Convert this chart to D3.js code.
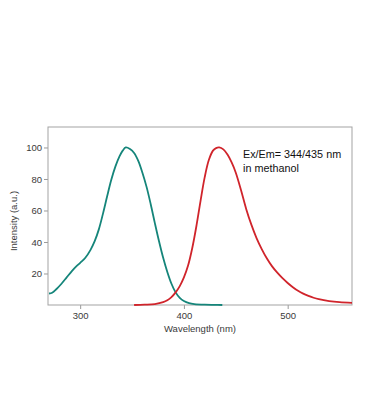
<!DOCTYPE html>
<html>
<head>
<meta charset="utf-8">
<script src="https://cdn.jsdelivr.net/npm/d3@7"></script>
<style>
  body { margin: 0; background: #fff; }
  svg { display: block; font-family: "Liberation Sans", Arial, sans-serif; }
</style>
</head>
<body>
<div class="canvas"></div>
<script>
// excitation spectrum (teal)
const exWavelength = [270, 273, 277, 282, 287, 292, 296, 300, 305, 310, 314, 318, 322, 326, 330, 334, 338, 341, 344, 348, 352, 356, 360, 364, 368, 372, 376, 380, 384, 388, 392, 396, 400, 405, 410, 420, 430, 437];
const exIntensity  = [7.3, 7.8, 10, 13.5, 17.5, 21.5, 24.3, 26.8, 30, 35, 40.5, 48, 58, 69, 79.5, 88, 94.5, 98, 100, 99, 96.5, 91.5, 84, 75, 64, 52, 40.5, 30, 21, 13.5, 8, 4.5, 2.5, 1.2, 0.6, 0.2, 0.1, 0];

// emission spectrum (red)
const emWavelength = [352, 362, 372, 380, 384, 388, 392, 396, 400, 404, 408, 412, 416, 420, 424, 428, 431, 434, 438, 442, 446, 450, 455, 460, 465, 470, 475, 480, 485, 490, 495, 500, 505, 510, 515, 520, 525, 530, 540, 550, 562];
const emIntensity  = [0, 0.2, 0.6, 1.8, 3, 5, 8, 12, 17.5, 25, 36, 50, 66, 81, 92, 98, 99.6, 100, 98.8, 95.5, 90.5, 84, 73, 61, 51, 42.5, 35.5, 29.5, 24.5, 20.5, 17, 14, 11.3, 9, 7.2, 5.8, 4.6, 3.7, 2.5, 1.8, 1.4];

const xTicks = [300, 400, 500];
const yTicks = [20, 40, 60, 80, 100];

const width = 367;
const height = 420;
const margin = { top: 127, right: 15, bottom: 115, left: 48 };
const graphWidth = width - margin.left - margin.right;
const graphHeight = height - margin.top - margin.bottom;

const svg = d3.select('.canvas')
    .append('svg')
    .attr('width', width)
    .attr('height', height);

const graph = svg.append('g')
    .attr('transform', `translate(${margin.left}, ${margin.top})`);

const x = d3.scaleLinear()
    .domain([269, 562])
    .range([0, graphWidth]);

const y = d3.scaleLinear()
    .domain([0, 113])
    .range([graphHeight, 0]);

// axes
const xAxis = d3.axisBottom(x)
    .tickValues(xTicks)
    .tickSize(4)
    .tickPadding(3);
const yAxis = d3.axisLeft(y)
    .tickValues(yTicks)
    .tickSize(4)
    .tickPadding(2);

const xAxisGroup = graph.append('g')
    .attr('transform', `translate(0, ${graphHeight})`)
    .call(xAxis);
const yAxisGroup = graph.append('g')
    .call(yAxis);

[xAxisGroup, yAxisGroup].forEach(g => {
    g.select('.domain').remove();
    g.selectAll('line').attr('stroke', '#9a9a9a');
    g.selectAll('text')
        .attr('fill', '#3a3a3a')
        .style('font-size', '9.5px');
});

// frame
graph.append('rect')
    .attr('x', 0)
    .attr('y', 0)
    .attr('width', graphWidth)
    .attr('height', graphHeight)
    .attr('fill', 'none')
    .attr('stroke', '#a3a3a3')
    .attr('stroke-width', 1);

const line = d3.line()
    .x(d => x(d[0]))
    .y(d => y(d[1]))
    .curve(d3.curveCatmullRom.alpha(0.5));

graph.append('path')
    .datum(exWavelength.map((w, i) => [w, exIntensity[i]]))
    .attr('d', line)
    .attr('fill', 'none')
    .attr('stroke', '#15857a')
    .attr('stroke-width', 1.8);

graph.append('path')
    .datum(emWavelength.map((w, i) => [w, emIntensity[i]]))
    .attr('d', line)
    .attr('fill', 'none')
    .attr('stroke', '#d0242b')
    .attr('stroke-width', 1.8);

// axis titles
svg.append('text')
    .attr('x', 200)
    .attr('y', 332)
    .attr('text-anchor', 'middle')
    .attr('fill', '#3a3a3a')
    .style('font-size', '9.5px')
    .text('Wavelength (nm)');

svg.append('text')
    .attr('transform', 'translate(17, 221) rotate(-90)')
    .attr('text-anchor', 'middle')
    .attr('fill', '#3a3a3a')
    .style('font-size', '9.5px')
    .text('Intensity (a.u.)');

// annotation
const note = svg.append('text')
    .attr('x', 243)
    .attr('y', 158)
    .attr('fill', '#111')
    .style('font-size', '10.8px');
note.append('tspan').attr('x', 243).text('Ex/Em= 344/435 nm');
note.append('tspan').attr('x', 243).attr('dy', 13.5).text('in methanol');
</script>
</body>
</html>
